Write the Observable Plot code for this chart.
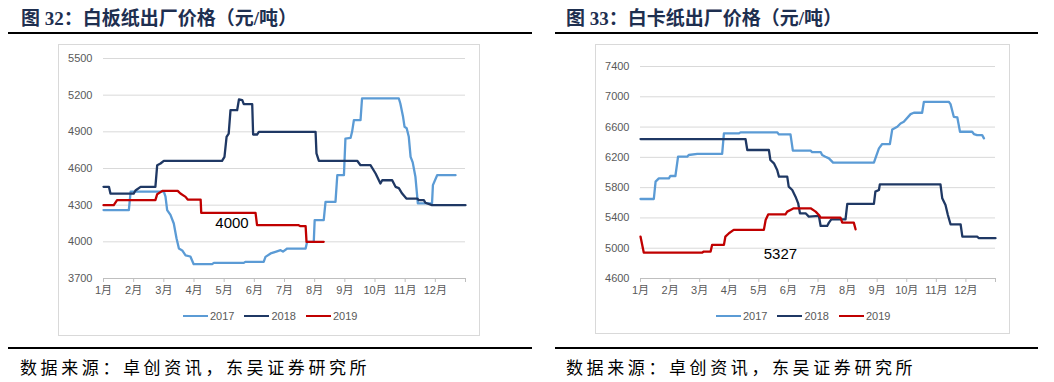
<!DOCTYPE html>
<html>
<head>
<meta charset="utf-8">
<script src="https://cdn.jsdelivr.net/npm/d3@7"></script>
<script src="https://cdn.jsdelivr.net/npm/@observablehq/plot@0.6"></script>
<style>
  html, body { margin: 0; padding: 0; background: #fff; }
  body { width: 1054px; height: 382px; position: relative; overflow: hidden; }
  .title { position: absolute; top: 3px; font-family: "Liberation Serif", "Noto Sans CJK SC", serif; font-weight: bold; font-size: 19px; color: #1e2f50; white-space: nowrap; }
  .rule { position: absolute; height: 2px; background: #000; }
  .box { position: absolute; border: 1px solid #d9d9d9; box-sizing: border-box; }
  .source { position: absolute; top: 354px; font-family: "Noto Sans CJK SC", sans-serif; font-size: 17px; letter-spacing: 3.6px; color: #000; white-space: nowrap; }
  .legend { position: absolute; display: flex; align-items: center; font-family: "Liberation Sans", "Noto Sans CJK SC", sans-serif; font-size: 11px; color: #595959; }
  .legend span.sw { display: inline-block; width: 25px; height: 2.5px; margin-right: 2px; }
  .legend span.lb { margin-right: 10px; }
  .chart { position: absolute; }
</style>
</head>
<body>
<div class="title" style="left:21px;">图 32：白板纸出厂价格（元/吨）</div>
<div class="title" style="left:566px;">图 33：白卡纸出厂价格（元/吨）</div>
<div class="rule" style="left:8px; width:524px; top:32px;"></div>
<div class="rule" style="left:555px; width:483px; top:32px;"></div>
<div class="box" style="left:58px; top:44px; width:422px; height:292px;"></div>
<div class="box" style="left:595px; top:44px; width:415px; height:290px;"></div>
<div class="chart" id="left" style="left:58px; top:44px;"></div>
<div class="chart" id="right" style="left:595px; top:44px;"></div>
<div class="legend" id="legL" style="left:183px; top:310px;"></div>
<div class="legend" id="legR" style="left:716px; top:310px;"></div>
<div class="rule" style="left:8px; width:524px; top:347px;"></div>
<div class="rule" style="left:555px; width:483px; top:347px;"></div>
<div class="source" style="left:20px;">数据来源：卓创资讯，东吴证券研究所</div>
<div class="source" style="left:566px;">数据来源：卓创资讯，东吴证券研究所</div>
<script>
// ---- Data ----
const years = ["2017", "2018", "2019"];
const colors = ["#5b9bd5", "#1f3864", "#c00000"];
const months = [1,2,3,4,5,6,7,8,9,10,11,12];
const monthLabels = ["1月","2月","3月","4月","5月","6月","7月","8月","9月","10月","11月","12月"];

// 白板纸 (left) — [month position, price]
const board2017 = [[1.0,4260],[1.84,4260],[1.90,4410],[3.0,4410],[3.055,4370],[3.11,4260],[3.22,4220],[3.33,4150],[3.42,4030],[3.50,3945],[3.61,3930],[3.72,3890],[3.88,3880],[3.99,3817],[4.60,3817],[4.66,3828],[5.65,3828],[5.70,3836],[6.31,3836],[6.37,3877],[6.54,3905],[6.70,3918],[6.87,3932],[6.95,3920],[7.09,3945],[7.70,3945],[7.75,4000],[7.97,4000],[8.0,4177],[8.30,4177],[8.36,4327],[8.69,4327],[8.75,4545],[8.97,4545],[9.02,4845],[9.19,4850],[9.24,4900],[9.30,4995],[9.52,4995],[9.57,5173],[10.79,5173],[10.84,5132],[10.93,5023],[10.98,4941],[11.05,4930],[11.12,4859],[11.18,4695],[11.25,4650],[11.34,4532],[11.42,4314],[11.89,4314],[11.92,4464],[12.06,4545],[12.67,4545]];
const board2018 = [[1.0,4450],[1.18,4450],[1.23,4395],[2.0,4395],[2.06,4420],[2.23,4450],[2.72,4450],[2.78,4627],[2.89,4641],[3.0,4663],[4.93,4663],[5.01,4695],[5.08,4859],[5.15,4886],[5.21,5077],[5.43,5077],[5.49,5165],[5.60,5160],[5.65,5126],[5.93,5126],[5.96,4878],[6.09,4878],[6.15,4900],[8.03,4900],[8.06,4723],[8.14,4663],[9.41,4663],[9.52,4627],[9.85,4627],[10.02,4559],[10.18,4477],[10.24,4504],[10.57,4504],[10.68,4450],[10.79,4440],[10.90,4395],[11.04,4354],[11.40,4354],[11.45,4341],[11.62,4341],[11.67,4320],[11.89,4300],[13.0,4300]];
const board2019 = [[1.0,4300],[1.34,4300],[1.45,4341],[2.72,4341],[2.78,4390],[2.95,4417],[3.46,4417],[3.55,4395],[3.72,4368],[3.79,4346],[4.22,4346],[4.24,4237],[6.04,4237],[6.09,4136],[7.47,4136],[7.53,4128],[7.70,4128],[7.73,4000],[8.30,4000]];
const boardTicks = [3700, 4000, 4300, 4600, 4900, 5200, 5500];
const boardLabel = [{x: 5.26, y: 4154, text: "4000"}];

// 白卡纸 (right) — [month position, price]
const card2017 = [[1.0,5650],[1.45,5650],[1.51,5879],[1.62,5923],[1.96,5923],[2.01,5954],[2.18,5954],[2.27,6209],[2.58,6209],[2.63,6231],[2.92,6245],[3.76,6245],[3.82,6516],[4.32,6516],[4.38,6530],[5.62,6530],[5.68,6503],[6.07,6503],[6.15,6288],[6.75,6288],[6.80,6270],[7.09,6270],[7.14,6231],[7.25,6209],[7.37,6187],[7.51,6130],[8.89,6130],[8.94,6187],[9.06,6319],[9.17,6376],[9.43,6376],[9.51,6569],[9.68,6604],[9.79,6648],[9.90,6670],[10.13,6771],[10.24,6789],[10.52,6789],[10.58,6934],[11.42,6934],[11.48,6903],[11.59,6736],[11.71,6727],[11.80,6538],[12.21,6538],[12.27,6508],[12.38,6494],[12.55,6494],[12.61,6451]];
const card2018 = [[1.0,6442],[4.55,6442],[4.61,6297],[5.34,6297],[5.39,6165],[5.51,6121],[5.62,6033],[5.68,5945],[5.96,5945],[6.01,5813],[6.13,5769],[6.24,5681],[6.33,5593],[6.39,5461],[6.58,5461],[6.69,5417],[7.03,5426],[7.09,5294],[7.31,5294],[7.37,5338],[7.45,5382],[7.93,5382],[7.99,5585],[8.89,5585],[8.94,5747],[9.06,5769],[9.09,5844],[11.14,5844],[11.20,5659],[11.31,5571],[11.39,5439],[11.48,5316],[11.82,5316],[11.88,5154],[12.38,5154],[12.44,5132],[13.0,5132]];
const card2019 = [[1.0,5154],[1.11,4943],[3.09,4943],[3.14,4956],[3.37,4956],[3.42,5044],[3.82,5044],[3.87,5154],[3.99,5198],[4.15,5242],[5.17,5242],[5.23,5373],[5.32,5448],[5.90,5448],[5.96,5483],[6.07,5505],[6.18,5527],[6.75,5527],[6.92,5483],[7.03,5439],[7.09,5404],[7.76,5404],[7.82,5338],[8.21,5338],[8.27,5250]];
const cardTicks = [4600, 5000, 5400, 5800, 6200, 6600, 7000, 7400];
const cardLabel = [{x: 5.73, y: 4927, text: "5327"}];

// ---- Build ----
function toRows(seriesList) {
  const rows = [];
  seriesList.forEach((s, i) => s.forEach(([m, v]) => rows.push({year: years[i], m, v})));
  return rows;
}

function chart(seriesList, yTicks, labels, width, marginTop) {
  const rows = toRows(seriesList);
  const tickPos = months.concat([13]);
  return Plot.plot({
    width, height: 262,
    marginLeft: 45, marginRight: width === 421 ? 14 : 14, marginTop, marginBottom: 28,
    x: {domain: [1, 13]},
    y: {domain: [yTicks[0], yTicks[yTicks.length - 1]]},
    color: {domain: years, range: colors},
    style: {fontFamily: '"Liberation Sans", "Noto Sans CJK SC", sans-serif', fontSize: "11px", background: "transparent", overflow: "visible"},
    marks: [
      Plot.ruleY(yTicks.slice(1), {stroke: "#d9d9d9", strokeWidth: 1}),
      Plot.ruleY([yTicks[0]], {stroke: "#bfbfbf", strokeWidth: 1}),
      Plot.axisY({ticks: yTicks, tickSize: 0, tickPadding: 11, fill: "#595959", tickFormat: d => String(d)}),
      Plot.axisX({ticks: tickPos, tickSize: 4, tickPadding: 4, stroke: "#bfbfbf", fill: "#595959",
        tickFormat: d => d <= 12 ? monthLabels[d - 1] : ""}),
      Plot.line(rows, {x: "m", y: "v", z: "year", stroke: "year", strokeWidth: 2.3, strokeLinejoin: "round"}),
      Plot.text(labels, {x: "x", y: "y", text: "text", fill: "#000", fontSize: 15, fontFamily: '"Liberation Sans", sans-serif'})
    ]
  });
}

document.getElementById("left").appendChild(chart([board2017, board2018, board2019], boardTicks, boardLabel, 421, 14));
document.getElementById("right").appendChild(chart([card2017, card2018, card2019], cardTicks, cardLabel, 414, 22));

function legend(id) {
  const el = document.getElementById(id);
  years.forEach((y, i) => {
    const sw = document.createElement("span"); sw.className = "sw"; sw.style.background = colors[i];
    const lb = document.createElement("span"); lb.className = "lb"; lb.textContent = y;
    el.appendChild(sw); el.appendChild(lb);
  });
}
legend("legL"); legend("legR");
</script>
</body>
</html>
